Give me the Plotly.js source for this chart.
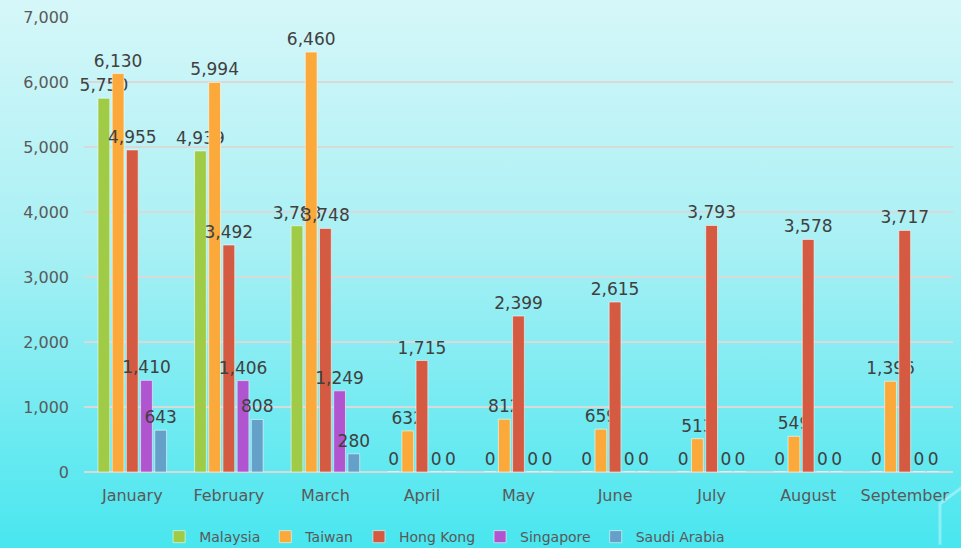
<!DOCTYPE html>
<html>
<head>
<meta charset="utf-8">
<script src="https://cdn.plot.ly/plotly-3.0.1.min.js"></script>
<style>
html,body{margin:0;padding:0;}
body{width:961px;height:548px;background:linear-gradient(to bottom,#d6f7f9 0%,#a8f0f4 45%,#48e6ef 100%);overflow:hidden;}
#chart{width:961px;height:548px;}
</style>
</head>
<body>
<div id="chart"></div>
<script>
const months = ["January","February","March","April","May","June","July","August","September"];
const seriesNames = ["Malaysia","Taiwan","Hong Kong","Singapore","Saudi Arabia"];
const malaysia = [5750,4939,3788,0,0,0,0,0,0];
const taiwan = [6130,5994,6460,632,812,659,513,549,1396];
const hongKong = [4955,3492,3748,1715,2399,2615,3793,3578,3717];
const singapore = [1410,1406,1249,0,0,0,0,0,0];
const saudiArabia = [643,808,280,0,0,0,0,0,0];
const colors = ["#9fcb47","#fba93b","#d45a41","#b055cf","#65a0c9"];
const allValues = [malaysia,taiwan,hongKong,singapore,saudiArabia];

const traces = allValues.map((vals,i)=>({
  type:"bar",
  name:seriesNames[i],
  x:months,
  y:vals,
  marker:{color:colors[i],line:{color:"rgba(255,255,255,0.55)",width:1}},
  text:vals.map(v=>v.toLocaleString("en-US")),
  textposition:"outside",
  constraintext:"none",
  cliponaxis:false,
  textfont:{family:"DejaVu Sans",size:17,color:"#404040"},
  hoverinfo:"skip"
}));

const layout = {
  width:961,height:548,
  paper_bgcolor:"rgba(0,0,0,0)",
  plot_bgcolor:"rgba(0,0,0,0)",
  margin:{l:84,r:8,t:17,b:76,autoexpand:false},
  barmode:"group",
  bargap:0.265,
  bargroupgap:0.17,
  font:{family:"DejaVu Sans",color:"#595959"},
  xaxis:{
    showgrid:false,showline:false,zeroline:false,ticks:"",
    ticklabelstandoff:12,
    tickfont:{size:16,color:"#595959"}
  },
  yaxis:{
    range:[0,7000],dtick:1000,tickformat:",",
    showgrid:true,gridcolor:"#d9d9d9",gridwidth:1.5,
    zeroline:true,zerolinecolor:"#d9d9d9",zerolinewidth:2.5,
    showline:false,ticks:"",ticklen:0,
    ticklabelstandoff:14,
    tickfont:{size:16,color:"#595959"}
  },
  showlegend:true,
  legend:{orientation:"h",xref:"paper",x:0.415,xanchor:"center",
    yref:"container",y:0.02,yanchor:"middle",
    font:{size:14,color:"#595959"},itemwidth:30,traceorder:"normal",
    bgcolor:"rgba(0,0,0,0)"},
  shapes:[
    {type:"path",xref:"paper",yref:"paper",path:"M 0.985 -0.16 L 0.985 -0.07 L 1.02 -0.02",line:{color:"rgba(255,255,255,0.35)",width:3}}
  ]
};
Plotly.newPlot("chart",traces,layout,{displayModeBar:false,staticPlot:true});
</script>
</body>
</html>
